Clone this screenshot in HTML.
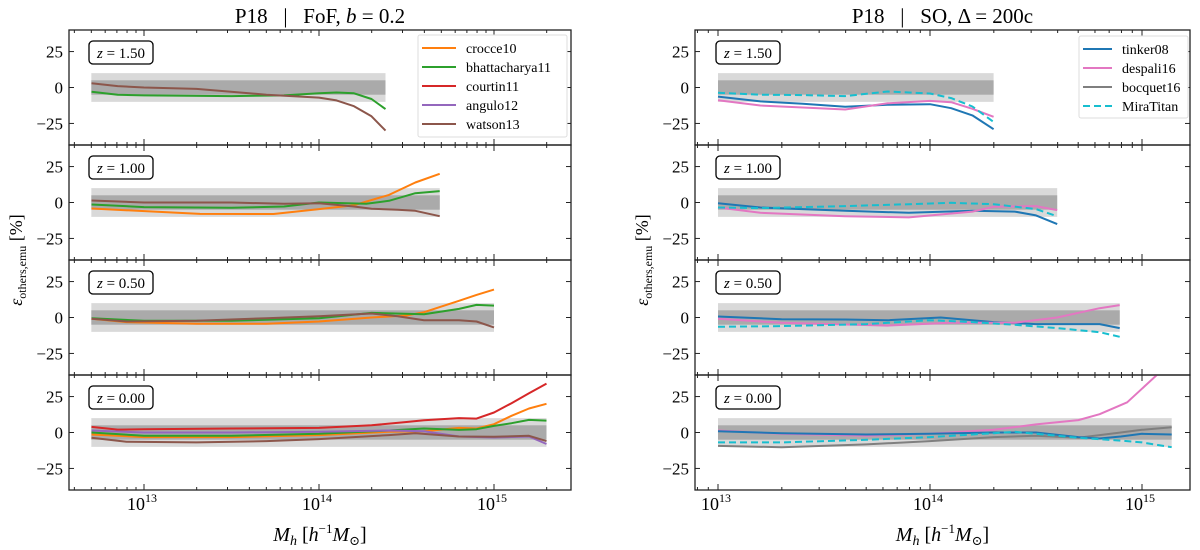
<!DOCTYPE html>
<html><head><meta charset="utf-8"><style>
html,body{margin:0;padding:0;background:#fff;}
svg{display:block;font-family:"Liberation Serif","DejaVu Serif",serif;}
</style></head><body>
<svg id="fig" width="1200" height="550" viewBox="0 0 1200 550"></svg>
<script>
// ---------- data (log10 of M_h, percent deviation) ----------
const zLabels = ["1.50","1.00","0.50","0.00"];
const bandEndL = [14.38, 14.69, 15.0, 15.3];
const bandEndR = [14.30, 14.60, 14.895, 15.14];
// FoF (left)
const bhatt_z150_x = [12.7,12.85,13,13.5,13.8,14.0,14.1,14.2,14.3,14.38];
const bhatt_z150_y = [-3,-5,-5.5,-6,-5.5,-4,-3.5,-4,-8,-15];
const watson_z150_x = [12.7,12.85,13,13.3,13.7,14.0,14.1,14.2,14.3,14.38];
const watson_z150_y = [3,1,0,-1,-5,-7,-9,-13,-20,-30];
const crocce_z100_x = [12.7,13.32,13.74,14.0,14.2,14.4,14.55,14.69];
const crocce_z100_y = [-4.2,-7.9,-8,-4.6,-1.9,5.3,13.9,20];
const bhatt_z100_x = [12.7,13,13.5,13.8,14.0,14.27,14.4,14.55,14.69];
const bhatt_z100_y = [-1.4,-3.2,-3.7,-2.8,0,-0.9,1.2,6.5,7.9];
const watson_z100_x = [12.7,13,13.5,13.8,14.0,14.2,14.3,14.45,14.55,14.69];
const watson_z100_y = [1.4,0,0,-0.9,-0.5,-2.8,-4.4,-5,-5.8,-9.5];
const crocce_z050_x = [12.7,12.9,13.3,13.7,14.0,14.3,14.5,14.6,14.8,14.9,15.0];
const crocce_z050_y = [-0.9,-3.2,-4.4,-4.4,-2.8,0,1.4,3.7,11.6,15.7,19.4];
const bhatt_z050_x = [12.7,13,13.5,14.0,14.3,14.6,14.8,14.9,15.0];
const bhatt_z050_y = [-0.5,-2.3,-2.3,-0.5,3.2,2.3,6,8.8,8.3];
const watson_z050_x = [12.7,12.9,13.3,13.7,14.0,14.3,14.45,14.6,14.8,14.9,15.0];
const watson_z050_y = [-0.9,-2.8,-2.3,-0.5,0.9,2.8,0.9,-1.9,-1.9,-2.8,-6.9];
const courtin_z000_x = [12.7,12.85,13,13.5,14.0,14.3,14.5,14.6,14.8,14.9,15.0,15.1,15.2,15.3];
const courtin_z000_y = [3.9,2,2.3,2.8,3.2,5,7.3,8.5,10,9.7,13.9,20.4,27.3,34];
const crocce_z000_x = [12.7,13,13.5,14.0,14.4,14.6,14.8,14.9,15.0,15.1,15.2,15.3];
const crocce_z000_y = [-1.4,-3.2,-3.2,-1.8,0.5,0.9,3.2,2.8,5.8,11.6,16.7,20];
const bhatt_z000_x = [12.7,13,13.5,14.0,14.4,14.6,14.8,14.9,15.0,15.1,15.2,15.3];
const bhatt_z000_y = [0,-2.3,-2.3,-0.9,1.4,2.8,1.8,2.3,4.6,6.5,8.8,8.3];
const angulo_z000_x = [12.7,13,13.5,14.0,14.4,14.6,14.8,15.0,15.2,15.3];
const angulo_z000_y = [1.4,0,0,0.5,1.4,0.9,-2.8,-3.5,-2.8,-8];
const watson_z000_x = [12.7,12.9,13.3,13.7,14.0,14.4,14.55,14.8,15.0,15.2,15.3];
const watson_z000_y = [-3.7,-6.4,-6.9,-6,-4.6,-1.8,-0.5,-2.8,-3,-2.3,-6];
// SO (right)
const tinker_z150_x = [13,13.2,13.4,13.6,13.8,14.0,14.1,14.2,14.3];
const tinker_z150_y = [-6.3,-9.7,-11.3,-13.4,-12,-11.6,-14.4,-19.4,-29];
const despali_z150_y = [-8.8,-12.5,-13.9,-15.3,-11,-9.3,-10.2,-14.8,-20.4];
const mira_z150_y = [-3.7,-5,-5.3,-6,-2.8,-4.2,-7.4,-13.2,-24];
const tinker_z100_x = [13,13.2,13.6,13.9,14.2,14.4,14.5,14.6];
const tinker_z100_y = [-0.5,-3.5,-5.8,-7.2,-5.8,-6.3,-9,-15];
const despali_z100_x = [13,13.2,13.6,13.9,14.2,14.3,14.5,14.6];
const despali_z100_y = [-3.5,-7.2,-9.5,-10.4,-6.3,-3,-2.5,-5.3];
const mira_z100_x = [13,13.2,13.6,13.9,14.1,14.3,14.5,14.6];
const mira_z100_y = [-3.5,-3.9,-2.5,-1.2,-0.2,-1.2,-4.6,-9.5];
const tinker_z050_x = [13,13.3,13.6,13.8,14.05,14.3,14.5,14.8,14.895];
const tinker_z050_y = [0.7,-1.2,-1.4,-1.9,0,-3.2,-4.6,-4.6,-7.4];
const despali_z050_x = [13,13.3,13.8,14.1,14.3,14.4,14.6,14.8,14.895];
const despali_z050_y = [-0.9,-3.7,-5.6,-3.7,-3.7,-3.7,0,6.5,8.6];
const mira_z050_x = [13,13.3,13.7,14.0,14.2,14.4,14.6,14.8,14.895];
const mira_z050_y = [-6.5,-6,-4.6,-1.9,-3.2,-5.1,-7.4,-10.2,-13.4];
const despali_z000_x = [13,13.3,13.7,14.0,14.3,14.5,14.7,14.8,14.93,15.0,15.07,15.14];
const despali_z000_y = [1.4,-0.9,-2.3,-0.9,1.9,5.6,8.6,12.7,21,30.5,40,50];
const so_z000_x = [13,13.3,13.7,14.0,14.3,14.5,14.7,14.8,14.9,15.0,15.14];
const tinker_z000_y = [0.9,-0.5,-1.4,-0.9,0,0,-3.2,-4.2,-2.8,-0.9,-1.4];
const mira_z000_x = [13,13.3,13.7,14.0,14.3,14.4,14.5,14.7,14.9,15.0,15.14];
const mira_z000_y = [-6.9,-6.9,-5.1,-3.2,-0.5,0.5,-0.9,-3.7,-5.6,-6.9,-10.2];
const bocquet_z000_x = [13,13.3,13.7,14.0,14.3,14.5,14.7,14.9,15.0,15.14];
const bocquet_z000_y = [-9.3,-10.2,-8.3,-6,-3.2,-2.3,-3.7,0,1.9,3.7];

const C = {crocce:"#ff7f0e",bhatt:"#2ca02c",courtin:"#d62728",angulo:"#9467bd",watson:"#8c564b",
  tinker:"#1f77b4",despali:"#e377c2",bocquet:"#7f7f7f",mira:"#17becf"};

const leftSeries = [
  [["bhatt",bhatt_z150_x,bhatt_z150_y],["watson",watson_z150_x,watson_z150_y]],
  [["crocce",crocce_z100_x,crocce_z100_y],["bhatt",bhatt_z100_x,bhatt_z100_y],["watson",watson_z100_x,watson_z100_y]],
  [["crocce",crocce_z050_x,crocce_z050_y],["bhatt",bhatt_z050_x,bhatt_z050_y],["watson",watson_z050_x,watson_z050_y]],
  [["courtin",courtin_z000_x,courtin_z000_y],["crocce",crocce_z000_x,crocce_z000_y],["bhatt",bhatt_z000_x,bhatt_z000_y],["angulo",angulo_z000_x,angulo_z000_y],["watson",watson_z000_x,watson_z000_y]]
];
const rightSeries = [
  [["tinker",tinker_z150_x,tinker_z150_y],["despali",tinker_z150_x,despali_z150_y],["mira",tinker_z150_x,mira_z150_y]],
  [["tinker",tinker_z100_x,tinker_z100_y],["despali",despali_z100_x,despali_z100_y],["mira",mira_z100_x,mira_z100_y]],
  [["tinker",tinker_z050_x,tinker_z050_y],["despali",despali_z050_x,despali_z050_y],["mira",mira_z050_x,mira_z050_y]],
  [["bocquet",bocquet_z000_x,bocquet_z000_y],["despali",despali_z000_x,despali_z000_y],["tinker",so_z000_x,tinker_z000_y],["mira",mira_z000_x,mira_z000_y]]
];

const NS="http://www.w3.org/2000/svg";
const svg=document.getElementById("fig");
function mk(tag,attrs,parent){const e=document.createElementNS(NS,tag);for(const k in attrs)e.setAttribute(k,attrs[k]);(parent||svg).appendChild(e);return e;}

const tops=[30,145,260,375];
const PH=115;
function drawSide(side){
  const L = side==="L";
  const x0=L?69:695, x1=L?571:1190;
  const dec=L?175:212, ref13=L?144:718;
  const X=v=>ref13+(v-13)*dec;
  const bandStart=L?12.699:13;
  const bands=L?bandEndL:bandEndR;
  const series=L?leftSeries:rightSeries;
  const g=mk("g",{});
  
  
  for(let p=0;p<4;p++){
    const top=tops[p], cy=top+PH/2;
    const Y=v=>cy-v*(PH/80);
    const cid="clip"+side+p;
    const cp=mk("clipPath",{id:cid},g);
    mk("rect",{x:x0,y:top,width:x1-x0,height:PH},cp);
    const pg=mk("g",{"clip-path":"url(#"+cid+")"},g);
    
    
    const b1=mk("rect",{x:X(bandStart),y:Y(10),width:X(bands[p])-X(bandStart),height:Y(-10)-Y(10),fill:"#d9d9d9"},pg);
    
    
    const b2=mk("rect",{x:X(bandStart),y:Y(5),width:X(bands[p])-X(bandStart),height:Y(-5)-Y(5),fill:"#aaaaaa"},pg);
    
    
    series[p].forEach(s=>{
      const pts=s[1].map((xv,i)=>X(xv).toFixed(1)+","+Y(s[2][i]).toFixed(1)).join(" ");
      const pl=mk("polyline",{points:pts,fill:"none",stroke:C[s[0]],"stroke-width":2,"stroke-linejoin":"round"},pg);
      if(s[0]==="mira")pl.setAttribute("stroke-dasharray","7,4");
      
      
    });
    const fr=mk("rect",{x:x0,y:top,width:x1-x0,height:PH,fill:"none",stroke:"#222","stroke-width":1.3},g);
    
    
    [25,0,-25].forEach(v=>{
      mk("line",{x1:x0,x2:x0+5,y1:Y(v),y2:Y(v),stroke:"#222","stroke-width":1},g);
      mk("line",{x1:x1,x2:x1-5,y1:Y(v),y2:Y(v),stroke:"#222","stroke-width":1},g);
      const t=mk("text",{x:x0-6,y:Y(v)+6,"text-anchor":"end","font-size":17},g);
      t.textContent=v<0?"\u2212"+(-v):String(v);
      
      
    });
    for(let d=12;d<=15;d++){for(let m=1;m<10;m++){
      const lv=d+Math.log10(m); const xx=X(lv);
      if(xx<x0+1||xx>x1-1)continue;
      const len=m===1?6:3;
      mk("line",{x1:xx,x2:xx,y1:top+PH,y2:top+PH-len,stroke:"#222","stroke-width":1},g);
      mk("line",{x1:xx,x2:xx,y1:top,y2:top+len,stroke:"#222","stroke-width":1},g);
    }}
    const bx=L?89:716;
    const zr=mk("rect",{x:bx,y:top+11,width:64,height:23,rx:4,fill:"#fff",stroke:"#000","stroke-width":1.3},g);
    
    
    const zt=mk("text",{x:bx+32,y:top+28,"text-anchor":"middle","font-size":15},g);
    zt.innerHTML='<tspan font-style="italic">z</tspan> = '+zLabels[p];
    
    
  }
  for(let d=13;d<=15;d++){
    const t=mk("text",{x:X(d)-2,y:510,"text-anchor":"middle","font-size":18},g);
    t.innerHTML='10<tspan dy="-8" font-size="12">'+d+'</tspan>';
    
    
  }
  const cx=(x0+x1)/2;
  const xl=mk("text",{x:cx,y:541,"text-anchor":"middle","font-size":20},g);
  xl.innerHTML='<tspan font-style="italic">M</tspan><tspan font-style="italic" font-size="14" dy="4">h</tspan><tspan dy="-4">  [</tspan><tspan font-style="italic">h</tspan><tspan font-size="13" dy="-8">\u22121</tspan><tspan font-style="italic" dy="8">M</tspan><tspan font-size="13" dy="4">\u2299</tspan><tspan dy="-4">]</tspan>';
  
  
  const yx=L?22:648;
  const yl=mk("text",{x:yx,y:260,"text-anchor":"middle","font-size":18,transform:"rotate(-90 "+yx+" 260)"},g);
  yl.innerHTML='<tspan font-style="italic">\u03b5</tspan><tspan font-size="12" dy="4">others,emu</tspan><tspan dy="-4"> [%]</tspan>';
  
  
  const tt=mk("text",{x:cx,y:23,"text-anchor":"middle","font-size":21},g);
  tt.innerHTML=L?'P18 \u00a0\u00a0|\u00a0\u00a0 FoF, <tspan font-style="italic">b</tspan> = 0.2':'P18 \u00a0\u00a0|\u00a0\u00a0 SO, \u0394 = 200c';
  
  
}
drawSide("L");drawSide("R");

function legend(x,y,w,h,items,lineW,name){
  const g=mk("g",{});
  
  
  mk("rect",{x:x,y:y,width:w,height:h,rx:2,fill:"#fff",stroke:"#ddd","stroke-width":1},g);
  items.forEach((it,i)=>{
    const yy=y+13+i*19;
    const ln=mk("line",{x1:x+4,x2:x+4+lineW,y1:yy,y2:yy,stroke:C[it[0]],"stroke-width":2},g);
    if(it[0]==="mira")ln.setAttribute("stroke-dasharray","7,4");
    const t=mk("text",{x:x+lineW+14,y:yy+5,"font-size":14},g);
    t.textContent=it[1];
    
    
  });
}
legend(418,35,149,102,[["crocce","crocce10"],["bhatt","bhattacharya11"],["courtin","courtin11"],["angulo","angulo12"],["watson","watson13"]],34,"legend-fof");
legend(1079,36,109,82,[["tinker","tinker08"],["despali","despali16"],["bocquet","bocquet16"],["mira","MiraTitan"]],29,"legend-so");
</script>
</body></html>
